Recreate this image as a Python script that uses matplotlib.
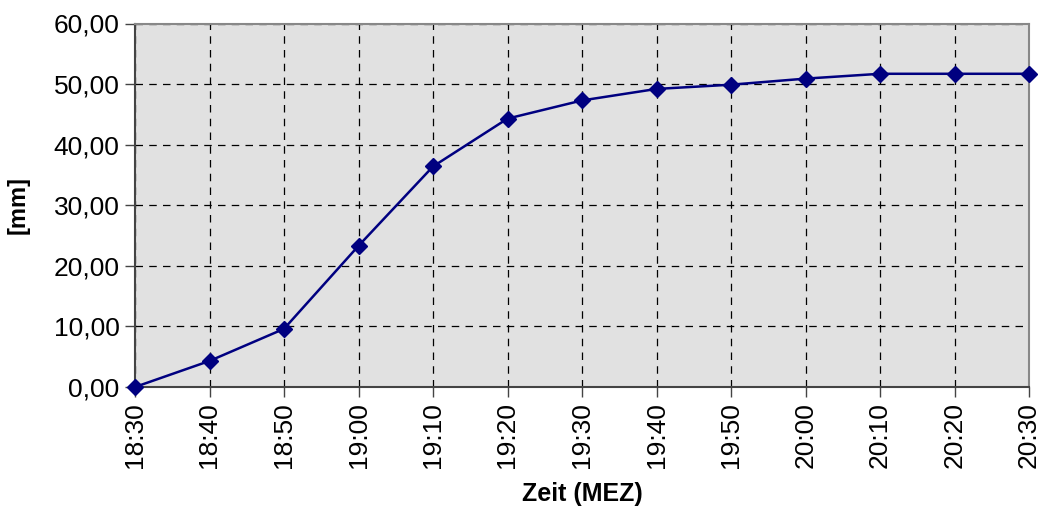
import matplotlib
matplotlib.use("Agg")
import matplotlib.pyplot as plt

plt.rcParams['font.family'] = ['Liberation Sans', 'DejaVu Sans']

zeiten = ["18:30", "18:40", "18:50", "19:00", "19:10", "19:20", "19:30",
          "19:40", "19:50", "20:00", "20:10", "20:20", "20:30"]
werte = [0.0, 4.3, 9.6, 23.3, 36.4, 44.3, 47.3, 49.2, 49.9, 50.9, 51.7, 51.7, 51.7]
y_ticks = [0, 10, 20, 30, 40, 50, 60]

fig = plt.figure(figsize=(10.4, 5.08), dpi=100)
ax = fig.add_axes([135 / 1040, 1 - 387 / 508, (1029 - 135) / 1040, (387 - 23.5) / 508])
ax.set_facecolor("#e1e1e1")

x = list(range(len(zeiten)))
ax.plot(x, werte, color="#000080", lw=1.8, marker="D", ms=8, mec="#000080", mfc="#000080",
        clip_on=False, zorder=5)

ax.set_xlim(0, len(zeiten) - 1)
ax.set_ylim(0, 60)
ax.set_xticks(x)
ax.set_xticklabels(zeiten, rotation=90, fontsize=19)
ax.set_yticks(y_ticks)
ax.set_yticklabels([f"{v:.2f}".replace(".", ",") for v in y_ticks], fontsize=19)

ax.grid(True, color="black", linestyle=(0, (6, 5)), lw=0.9)
ax.set_axisbelow(True)

for s in ["top", "right"]:
    ax.spines[s].set_color("#888888")
    ax.spines[s].set_linewidth(1.5)
for s in ["left", "bottom"]:
    ax.spines[s].set_color("#444444")
    ax.spines[s].set_linewidth(1.5)
ax.tick_params(direction="out", length=7, width=1, color="#444444", pad=4)

ax.set_ylabel("[mm]", fontsize=17, fontweight="bold", labelpad=17)
ax.set_xlabel("Zeit (MEZ)", fontsize=18, fontweight="bold", labelpad=10)

fig.savefig("out.png", dpi=100)
